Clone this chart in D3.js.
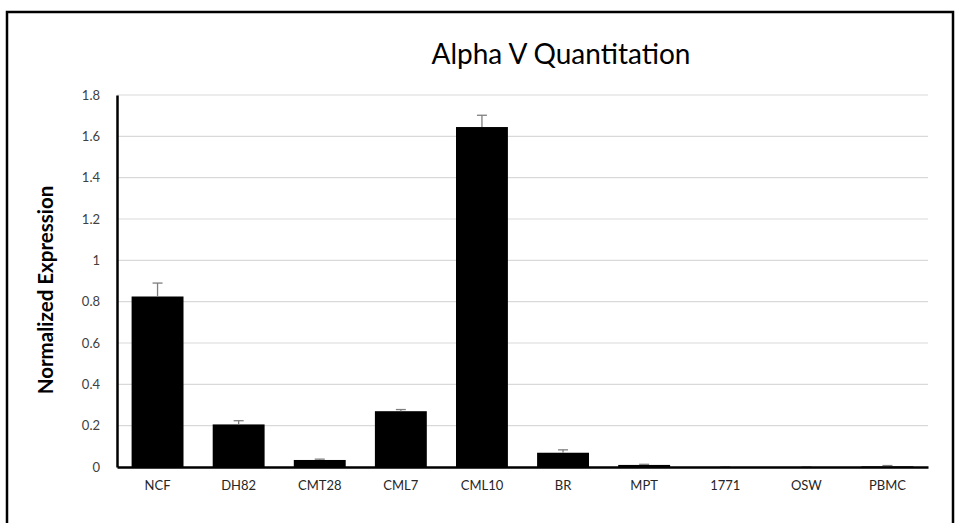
<!DOCTYPE html>
<html>
<head>
<meta charset="utf-8">
<script src="https://cdn.jsdelivr.net/npm/d3@7"></script>
<style>
  body { margin: 0; background: #fff; }
  svg text { font-family: Lato, "Open Sans", sans-serif; }
</style>
</head>
<body>
<script>
// sample names along the x axis
var categories = ["NCF", "DH82", "CMT28", "CML7", "CML10", "BR", "MPT", "1771", "OSW", "PBMC"];
// mean normalized expression
var values = [0.825, 0.206, 0.034, 0.270, 1.645, 0.069, 0.010, 0, 0, 0.003];
// error bar size (upper only)
var errors = [0.065, 0.018, 0.004, 0.008, 0.057, 0.014, 0.003, 0, 0, 0.004];
var yTicks = [0, 0.2, 0.4, 0.6, 0.8, 1, 1.2, 1.4, 1.6, 1.8];

var width = 958, height = 523;
var margin = {left: 117, right: 30, top: 95, bottom: 56};

var svg = d3.select("body").append("svg")
    .attr("width", width)
    .attr("height", height);

// outer frame, open at the bottom (runs off the picture)
svg.append("rect")
    .attr("x", 7).attr("y", 12)
    .attr("width", 946).attr("height", 540)
    .attr("fill", "none")
    .attr("stroke", "#000")
    .attr("stroke-width", 2.5);

var x = d3.scaleBand()
    .domain(categories)
    .range([margin.left, width - margin.right])
    .paddingInner(0.36)
    .paddingOuter(0.18);

var y = d3.scaleLinear()
    .domain([0, 1.8])
    .range([height - margin.bottom, margin.top]);

// gridlines
svg.append("g")
    .selectAll("line")
    .data(yTicks.slice(1))
    .enter().append("line")
    .attr("x1", margin.left)
    .attr("x2", width - margin.right)
    .attr("y1", function(d){ return y(d); })
    .attr("y2", function(d){ return y(d); })
    .attr("stroke", "#d9d9d9")
    .attr("stroke-width", 1.2);

// y axis
var yAxis = svg.append("g")
    .attr("transform", "translate(" + margin.left + ",0)")
    .call(d3.axisLeft(y).tickValues(yTicks).tickSize(0).tickPadding(17)
        .tickFormat(function(d){ return String(d); }));
yAxis.select(".domain").attr("stroke", "#000").attr("stroke-width", 2.5);
yAxis.selectAll("text").attr("font-size", 13).attr("fill", "#404040")
    .style("font-family", "Lato, 'Open Sans', sans-serif");

// bars
svg.append("g")
    .selectAll("rect")
    .data(values)
    .enter().append("rect")
    .attr("x", function(d, i){ return x(categories[i]); })
    .attr("y", function(d){ return y(d); })
    .attr("width", x.bandwidth())
    .attr("height", function(d){ return y(0) - y(d); })
    .attr("fill", "#000");

// error bars
var err = svg.append("g")
    .attr("stroke", "#7f7f7f")
    .attr("stroke-width", 1.3);
err.selectAll("line.v")
    .data(values)
    .enter().append("line")
    .attr("class", "v")
    .attr("x1", function(d, i){ return x(categories[i]) + x.bandwidth() / 2; })
    .attr("x2", function(d, i){ return x(categories[i]) + x.bandwidth() / 2; })
    .attr("y1", function(d){ return y(d); })
    .attr("y2", function(d, i){ return y(d + errors[i]); });
err.selectAll("line.cap")
    .data(values)
    .enter().append("line")
    .attr("class", "cap")
    .attr("x1", function(d, i){ return x(categories[i]) + x.bandwidth() / 2 - 5; })
    .attr("x2", function(d, i){ return x(categories[i]) + x.bandwidth() / 2 + 5; })
    .attr("y1", function(d, i){ return y(d + errors[i]); })
    .attr("y2", function(d, i){ return y(d + errors[i]); });

// x axis
var xAxis = svg.append("g")
    .attr("transform", "translate(0," + y(0) + ")")
    .call(d3.axisBottom(x).tickSize(0).tickPadding(14));
xAxis.select(".domain").attr("stroke", "#000").attr("stroke-width", 2.5);
xAxis.selectAll("text").attr("font-size", 13).attr("fill", "#262626")
    .style("font-family", "Lato, 'Open Sans', sans-serif");

// title
svg.append("text")
    .attr("x", 561)
    .attr("y", 64)
    .attr("text-anchor", "middle")
    .attr("font-size", 28)
    .attr("fill", "#000")
    .text("Alpha V Quantitation");

// y axis label
svg.append("text")
    .attr("transform", "translate(53," + 290 + ") rotate(-90)")
    .attr("text-anchor", "middle")
    .attr("font-size", 20.5)
    .attr("font-weight", "bold")
    .attr("fill", "#000")
    .text("Normalized Expression");
</script>
</body>
</html>
